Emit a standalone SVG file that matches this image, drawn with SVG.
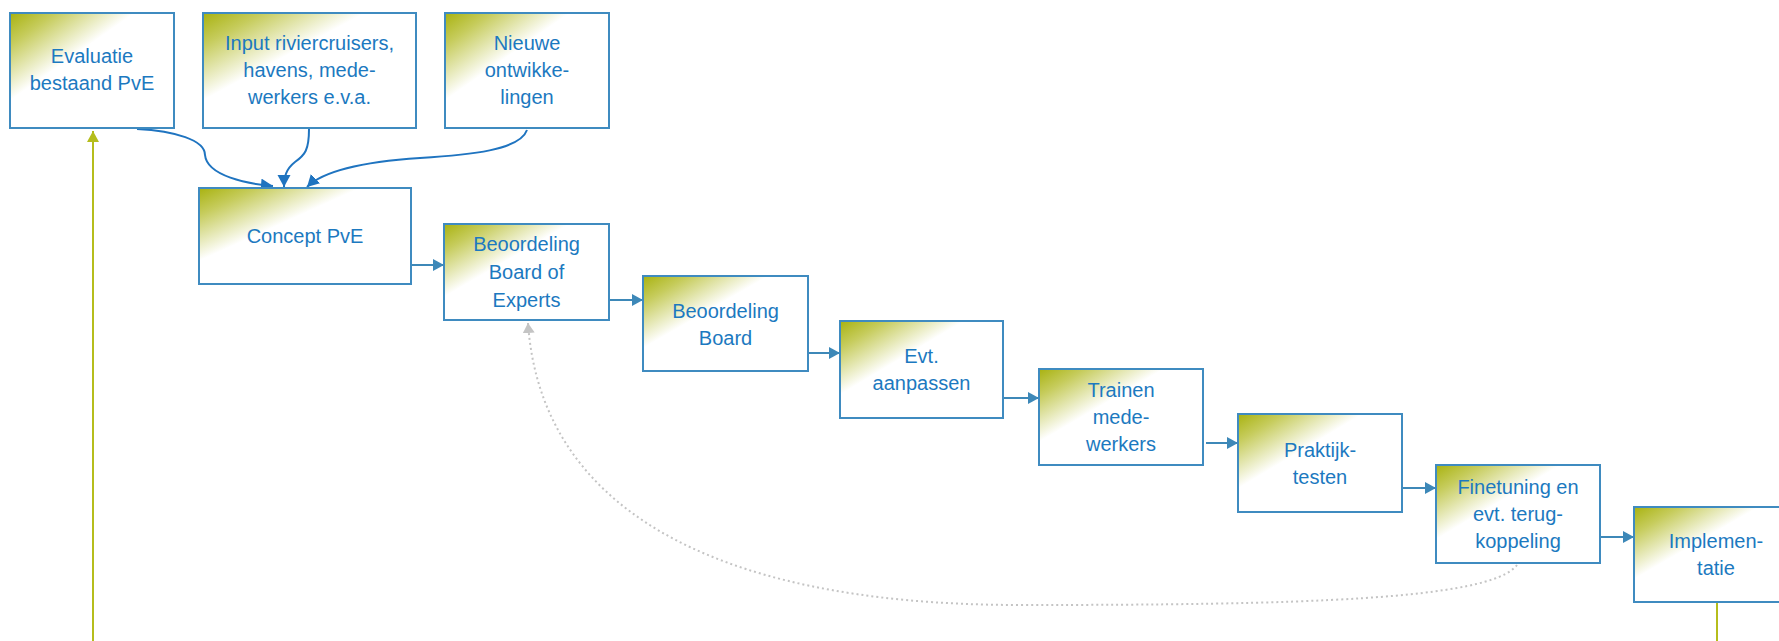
<svg xmlns="http://www.w3.org/2000/svg" width="1779" height="641" viewBox="0 0 1779 641">
<style>
.box{stroke:#3f8bc0;stroke-width:2;fill:url(#g)}
.t{font-family:"Liberation Sans",Arial,sans-serif;font-size:20px;fill:#1c79c0;text-anchor:middle}
.flow{stroke:#3d88b8;stroke-width:2;fill:none;marker-end:url(#ab)}
.inp{stroke:#1f74c0;stroke-width:2;fill:none;marker-end:url(#ai)}
.fb{stroke:#c4c4c4;stroke-width:2;fill:none;stroke-dasharray:2 3;marker-end:url(#ag)}
.ol{stroke:#b5bd1c;stroke-width:2;fill:none}
</style>
<defs>
<linearGradient id="g" x1="0" y1="0" x2="1" y2="1">
<stop offset="0" stop-color="#a8b210"/>
<stop offset="0.14" stop-color="#c6cc5c"/>
<stop offset="0.38" stop-color="#ffffff"/>
<stop offset="1" stop-color="#ffffff"/>
</linearGradient>
<marker id="ab" markerUnits="userSpaceOnUse" markerWidth="14" markerHeight="14" refX="11" refY="6" orient="auto"><path d="M0,0 L11,6 L0,12 Z" fill="#3d88b8"/></marker>
<marker id="ai" markerUnits="userSpaceOnUse" markerWidth="14" markerHeight="14" refX="12" refY="6.5" orient="auto"><path d="M0,0 L12,6.5 L0,13 Z" fill="#1f74c0"/></marker>
<marker id="ag" markerUnits="userSpaceOnUse" markerWidth="14" markerHeight="14" refX="10" refY="6" orient="auto"><path d="M0,0 L10,6 L0,12 Z" fill="#c4c4c4"/></marker>
<marker id="ao" markerUnits="userSpaceOnUse" markerWidth="14" markerHeight="14" refX="11" refY="6" orient="auto"><path d="M0,0 L11,6 L0,12 Z" fill="#b5bd1c"/></marker>
</defs>

<g id="connectors">
<path class="ol" d="M93,641 L93,131" marker-end="url(#ao)"/>
<path class="ol" d="M1717,602 L1717,641"/>
<path class="inp" d="M137,129 C175,131 205,140 205,155 C207,176 248,184 273,186"/>
<path class="inp" d="M309,129 C309,150 305,155 295,162 C286,169 284,177 284,187"/>
<path class="inp" d="M527,130 C520,150 470,155 420,158 C360,162 322,172 307,187"/>
<path class="flow" d="M411,265 L444,265"/>
<path class="flow" d="M609,300 L643,300"/>
<path class="flow" d="M808,353 L840,353"/>
<path class="flow" d="M1003,398 L1039,398"/>
<path class="flow" d="M1206,443 L1238,443"/>
<path class="flow" d="M1402,488 L1436,488"/>
<path class="flow" d="M1600,537 L1634,537"/>
<path class="fb" d="M1517,565 C1490,600 1300,605 1020,605 C700,605 540,500 528,323"/>
</g>

<g id="n1"><rect class="box" x="10" y="13" width="164" height="115"/><text class="t" x="92" y="63">Evaluatie</text><text class="t" x="92" y="90">bestaand PvE</text></g>
<g id="n2"><rect class="box" x="203" y="13" width="213" height="115"/><text class="t" x="309.5" y="50">Input riviercruisers,</text><text class="t" x="309.5" y="77">havens, mede-</text><text class="t" x="309.5" y="104">werkers e.v.a.</text></g>
<g id="n3"><rect class="box" x="445" y="13" width="164" height="115"/><text class="t" x="527" y="50">Nieuwe</text><text class="t" x="527" y="77">ontwikke-</text><text class="t" x="527" y="104">lingen</text></g>
<g id="n4"><rect class="box" x="199" y="188" width="212" height="96"/><text class="t" x="305" y="243">Concept PvE</text></g>
<g id="n5"><rect class="box" x="444" y="224" width="165" height="96"/><text class="t" x="526.5" y="251">Beoordeling</text><text class="t" x="526.5" y="279">Board of</text><text class="t" x="526.5" y="307">Experts</text></g>
<g id="n6"><rect class="box" x="643" y="276" width="165" height="95"/><text class="t" x="725.5" y="318">Beoordeling</text><text class="t" x="725.5" y="345">Board</text></g>
<g id="n7"><rect class="box" x="840" y="321" width="163" height="97"/><text class="t" x="921.5" y="363">Evt.</text><text class="t" x="921.5" y="390">aanpassen</text></g>
<g id="n8"><rect class="box" x="1039" y="369" width="164" height="96"/><text class="t" x="1121" y="397">Trainen</text><text class="t" x="1121" y="424">mede-</text><text class="t" x="1121" y="451">werkers</text></g>
<g id="n9"><rect class="box" x="1238" y="414" width="164" height="98"/><text class="t" x="1320" y="457">Praktijk-</text><text class="t" x="1320" y="484">testen</text></g>
<g id="n10"><rect class="box" x="1436" y="465" width="164" height="98"/><text class="t" x="1518" y="494">Finetuning en</text><text class="t" x="1518" y="521">evt. terug-</text><text class="t" x="1518" y="548">koppeling</text></g>
<g id="n11"><rect class="box" x="1634" y="507" width="164" height="95"/><text class="t" x="1716" y="548">Implemen-</text><text class="t" x="1716" y="575">tatie</text></g>
</svg>
